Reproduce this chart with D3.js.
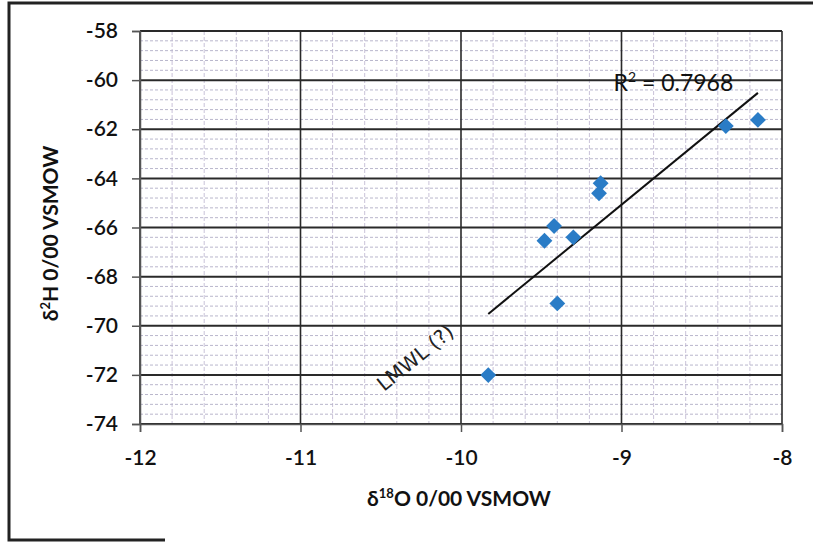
<!DOCTYPE html>
<html>
<head>
<meta charset="utf-8">
<script src="https://cdn.jsdelivr.net/npm/d3@7"></script>
<style>
  body { margin: 0; background: #fff; }
  svg { display: block; }
</style>
</head>
<body>
<div id="chart"></div>
<script>
// data
var d18O = [-8.15, -8.35, -9.13, -9.14, -9.42, -9.48, -9.30, -9.40, -9.83];
var d2H  = [-61.62, -61.87, -64.20, -64.61, -65.94, -66.54, -66.40, -69.09, -72.01];
var lineX = [-9.83, -8.15];
var lineY = [-69.52, -60.52];
var xTicks = [-12, -11, -10, -9, -8];
var yTicks = [-58, -60, -62, -64, -66, -68, -70, -72, -74];
var rSquared = "0.7968";

var W = 813, H = 542;
var margin = { top: 31, right: 31, bottom: 118, left: 140 },
  width = W - margin.left - margin.right,
  height = H - margin.top - margin.bottom;

var font = "Lato, 'Open Sans', sans-serif";

var svg = d3.select("#chart")
  .append("svg")
  .attr("width", W)
  .attr("height", H);

// outer frame of the scanned figure
svg.append("path")
  .attr("d", "M813,3 L9,3 L9,540 L165,540")
  .attr("fill", "none")
  .attr("stroke", "#222")
  .attr("stroke-width", 3);

var g = svg.append("g")
  .attr("transform", "translate(" + margin.left + "," + margin.top + ")");

var x = d3.scaleLinear().domain([-12, -8]).range([0, width]);
var y = d3.scaleLinear().domain([-74, -58]).range([height, 0]);

// minor grid
g.append("g")
  .selectAll("line")
  .data(d3.range(-12, -8, 0.2).filter(function (v) { return Math.abs(v - Math.round(v)) > 0.01; }))
  .enter()
  .append("line")
  .attr("x1", function (d) { return x(d); })
  .attr("x2", function (d) { return x(d); })
  .attr("y1", 0)
  .attr("y2", height)
  .attr("stroke", "#c9c2d8")
  .attr("stroke-width", 1)
  .attr("stroke-dasharray", "4,2");

g.append("g")
  .selectAll("line")
  .data(d3.range(-74, -58, 0.4).filter(function (v) { return Math.abs((v + 74) / 2 - Math.round((v + 74) / 2)) > 0.01; }))
  .enter()
  .append("line")
  .attr("x1", 0)
  .attr("x2", width)
  .attr("y1", function (d) { return y(d); })
  .attr("y2", function (d) { return y(d); })
  .attr("stroke", "#b9b6cc")
  .attr("stroke-width", 1)
  .attr("stroke-dasharray", "3,2");

// major grid
g.append("g")
  .selectAll("line")
  .data(xTicks)
  .enter()
  .append("line")
  .attr("x1", function (d) { return x(d); })
  .attr("x2", function (d) { return x(d); })
  .attr("y1", 0)
  .attr("y2", height)
  .attr("stroke", "#2a2a2a")
  .attr("stroke-width", 1.6);

g.append("g")
  .selectAll("line")
  .data(yTicks)
  .enter()
  .append("line")
  .attr("x1", 0)
  .attr("x2", width)
  .attr("y1", function (d) { return y(d); })
  .attr("y2", function (d) { return y(d); })
  .attr("stroke", "#2a2a2a")
  .attr("stroke-width", 2);

// axes (plain hyphen minus, like Excel)
var fmt = function (d) { return String(d); };
var xAxis = g.append("g")
  .attr("transform", "translate(0," + height + ")")
  .call(d3.axisBottom(x).tickValues(xTicks).tickSize(8).tickPadding(18).tickFormat(fmt));

var yAxis = g.append("g")
  .call(d3.axisLeft(y).tickValues(yTicks).tickSize(8).tickPadding(14).tickFormat(fmt));

[xAxis, yAxis].forEach(function (a) {
  a.select(".domain").attr("stroke", "#555").attr("stroke-width", 1.5);
  a.selectAll(".tick line").attr("stroke", "#555").attr("stroke-width", 1.5);
  a.selectAll(".tick text")
    .attr("fill", "#111")
    .style("font-family", font)
    .style("font-weight", "600")
    .style("font-size", "21px");
});

// LMWL line
g.append("line")
  .attr("x1", x(lineX[0]))
  .attr("y1", y(lineY[0]))
  .attr("x2", x(lineX[1]))
  .attr("y2", y(lineY[1]))
  .attr("stroke", "#111")
  .attr("stroke-width", 2);

// points
var pts = d18O.map(function (v, i) { return { x: v, y: d2H[i] }; });
g.append("g")
  .selectAll("path")
  .data(pts)
  .enter()
  .append("path")
  .attr("d", d3.symbol().type(d3.symbolDiamond2).size(160))
  .attr("transform", function (d) { return "translate(" + x(d.x) + "," + y(d.y) + ")"; })
  .attr("fill", "#2a7cc6");

// R2 label
var r2 = g.append("text")
  .attr("x", x(-9.05))
  .attr("y", y(-60.45))
  .style("font-family", font)
  .style("font-size", "23px")
  .attr("fill", "#111");
r2.append("tspan").text("R");
r2.append("tspan").attr("dy", -9).style("font-size", "14px").text("2");
r2.append("tspan").attr("dy", 9).text(" = " + rSquared);

// handwritten LMWL note
g.append("text")
  .attr("transform", "translate(" + x(-10.48) + "," + y(-72.7) + ") rotate(-39)")
  .style("font-family", "'DejaVu Sans', sans-serif")
  .style("font-size", "20px")
  .attr("fill", "#222")
  .text("LMWL (?)");

// axis titles
svg.append("text")
  .attr("transform", "translate(58," + (margin.top + height / 2 + 6) + ") rotate(-90)")
  .attr("text-anchor", "middle")
  .style("font-family", font)
  .style("font-weight", "bold")
  .style("font-size", "21px")
  .attr("fill", "#111")
  .html("δ<tspan dy='-8' font-size='13px'>2</tspan><tspan dy='8'>H 0/00 VSMOW</tspan>");

svg.append("text")
  .attr("x", margin.left + width / 2 - 2)
  .attr("y", 506)
  .attr("text-anchor", "middle")
  .style("font-family", font)
  .style("font-weight", "bold")
  .style("font-size", "21px")
  .attr("fill", "#111")
  .html("δ<tspan dy='-8' font-size='13px'>18</tspan><tspan dy='8'>O 0/00 VSMOW</tspan>");
</script>
</body>
</html>
